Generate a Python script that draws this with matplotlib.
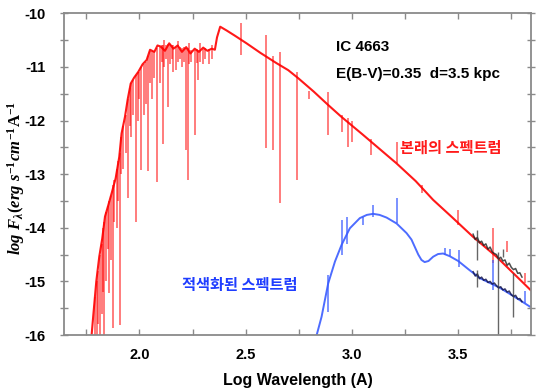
import matplotlib.pyplot as plt
import numpy as np

# intrinsic (dereddened) spectrum, continuum knots
red_x = [1.775, 1.783, 1.797, 1.811, 1.825, 1.838, 1.852, 1.869, 1.888, 1.905, 1.916,
         1.932, 1.945, 1.959, 1.975, 1.995, 2.015, 2.034, 2.05, 2.07, 2.085, 2.10, 2.12,
         2.14, 2.16, 2.18, 2.20, 2.22, 2.24, 2.26, 2.28, 2.30, 2.32, 2.34, 2.355, 2.365,
         2.38, 2.41, 2.45, 2.504, 2.57, 2.645, 2.70, 2.747, 2.82, 2.888, 2.95, 3.05,
         3.21, 3.30, 3.382, 3.47, 3.57, 3.68, 3.76, 3.84]
red_y = [-16.0, -15.63, -15.0, -14.54, -14.2, -13.79, -13.6, -13.36, -13.08, -12.68, -12.24,
         -11.93, -11.6, -11.31, -11.2, -11.09, -10.95, -10.87, -10.68, -10.72, -10.6, -10.62, -10.7,
         -10.56, -10.66, -10.6, -10.72, -10.63, -10.75, -10.66, -10.72, -10.64, -10.7, -10.66, -10.68, -10.45,
         -10.25, -10.32, -10.42, -10.56, -10.74, -10.93, -11.06, -11.21, -11.46, -11.71, -11.93, -12.26,
         -12.80, -13.13, -13.48, -13.8, -14.17, -14.54, -14.85, -15.16]

# absorption / emission features of the intrinsic spectrum: position, top, bottom
rl_x = [1.790, 1.800, 1.805, 1.814, 1.822, 1.830, 1.835, 1.845, 1.850, 1.858, 1.865, 1.874,
        1.880, 1.893, 1.900, 1.908, 1.915, 1.925, 1.935, 1.947, 1.955, 1.962, 1.970, 1.984,
        1.995, 2.0, 2.007, 2.02, 2.03, 2.042, 2.05, 2.06, 2.07, 2.081, 2.095, 2.105, 2.109,
        2.115, 2.125, 2.136, 2.145, 2.155, 2.16, 2.17, 2.18, 2.19, 2.20, 2.21, 2.219, 2.227,
        2.235, 2.245, 2.261, 2.27, 2.277, 2.285, 2.30, 2.31, 2.325, 2.34, 2.478, 2.597,
        2.629, 2.661, 2.742, 2.799, 2.885, 2.951, 2.982, 3.0, 3.089, 3.21, 3.33, 3.50,
        3.664, 3.73, 3.813]
rl_top = [-15.3, -15.0, -14.8, -14.5, -14.3, -14.0, -13.9, -13.7, -13.6, -13.5, -13.4, -13.2,
          -13.1, -12.9, -12.75, -12.6, -12.3, -12.1, -11.9, -11.6, -11.4, -11.3, -11.25, -11.15,
          -11.1, -11.1, -11.0, -10.95, -10.9, -10.8, -10.7, -10.7, -10.7, -10.65, -10.62, -10.6, -10.6,
          -10.5, -10.6, -10.58, -10.58, -10.6, -10.6, -10.62, -10.52, -10.62, -10.65, -10.62, -10.65, -10.65,
          -10.55, -10.68, -10.68, -10.66, -10.68, -10.56, -10.67, -10.65, -10.67, -10.6, -10.19, -10.4,
          -10.8, -10.72, -11.1, -11.45, -11.46, -11.9, -11.95, -12.0, -12.35, -12.40, -13.2, -13.67,
          -14.0, -14.25, -14.85]
rl_bot = [-16.0, -16.0, -15.8, -16.0, -15.6, -15.2, -16.0, -15.0, -14.4, -15.22, -14.6, -15.87,
          -13.9, -14.0, -13.5, -15.82, -13.0, -12.9, -12.6, -13.45, -12.1, -12.3, -11.9, -13.89,
          -12.0, -11.6, -12.92, -11.9, -11.7, -12.95, -11.3, -11.6, -11.2, -13.14, -11.3, -10.9, -12.43,
          -11.0, -10.85, -11.74, -10.95, -10.85, -11.1, -11.05, -10.9, -10.85, -11.0, -10.9, -12.55, -13.11,
          -10.95, -10.9, -12.27, -10.92, -11.24, -10.9, -10.95, -10.85, -10.95, -10.85, -10.78, -12.52,
          -12.55, -13.54, -13.11, -11.59, -12.27, -12.22, -12.49, -12.4, -12.64, -12.80, -13.35, -13.95,
          -14.66, -14.45, -15.03]

# reddened spectrum
blue_x = [2.834, 2.857, 2.888, 2.920, 2.951, 2.990, 3.037, 3.070, 3.100, 3.130, 3.163, 3.210,
          3.257, 3.280, 3.296, 3.312, 3.327, 3.342, 3.36, 3.382, 3.405, 3.429, 3.46, 3.50,
          3.55, 3.602, 3.696, 3.77, 3.837]
blue_y = [-16.0, -15.66, -15.04, -14.63, -14.32, -14.01, -13.82, -13.76, -13.74, -13.76, -13.81, -13.92,
          -14.10, -14.22, -14.36, -14.50, -14.60, -14.64, -14.62, -14.54, -14.49, -14.48, -14.53, -14.62,
          -14.78, -14.94, -15.12, -15.30, -15.47]
bl_x = [2.887, 2.951, 2.975, 3.05, 3.10, 3.212, 3.44, 3.46, 3.505, 3.664, 3.813]
bl_top = [-14.88, -13.86, -13.80, -13.8, -13.58, -13.45, -14.38, -14.40, -14.42, -14.6, -15.18]
bl_bot = [-15.57, -14.51, -14.30, -13.95, -13.80, -13.92, -14.50, -14.52, -14.73, -15.16, -15.40]

# observed data (black) on top of both curves
obs_x = [3.57, 3.58, 3.59, 3.60, 3.61, 3.62, 3.63, 3.64, 3.65, 3.66, 3.67, 3.68, 3.69,
         3.70, 3.71, 3.72, 3.73, 3.74, 3.75, 3.76, 3.77, 3.78, 3.79, 3.80]
obs_red = [-14.12, -14.22, -14.18, -14.28, -14.25, -14.33, -14.30, -14.40, -14.36, -14.45, -14.48,
           -14.50, -14.58, -14.55, -14.62, -14.60, -14.70, -14.66, -14.74, -14.78, -14.76, -14.85, -14.84, -14.92]
obs_blue = [-14.82, -14.90, -14.86, -14.95, -14.92, -14.98, -14.96, -15.02, -15.0, -15.05, -15.03,
            -15.08, -15.12, -15.10, -15.16, -15.14, -15.20, -15.18, -15.25, -15.28, -15.26, -15.33, -15.32, -15.38]
err_x = [3.59, 3.59, 3.685, 3.71, 3.76]
err_top = [-14.05, -14.78, -14.45, -14.40, -14.85]
err_bot = [-14.60, -15.10, -16.0, -14.55, -15.67]

plt.rcParams['mathtext.fontset'] = 'custom'
plt.rcParams['mathtext.rm'] = 'Liberation Serif:bold'
plt.rcParams['mathtext.it'] = 'Liberation Serif:italic:bold'
plt.rcParams['mathtext.bf'] = 'Liberation Serif:bold'

fig = plt.figure(figsize=(5.39, 3.91), dpi=100)
ax = fig.add_axes([0.1187, 0.1432, 0.8663, 0.8228])

ax.plot(red_x, red_y, color='#ff0000', lw=1.5, alpha=0.9)
ax.vlines(rl_x, rl_bot, rl_top, color='#ff0000', lw=1.2, alpha=0.6)
ax.plot(blue_x, blue_y, color='#3a5cff', lw=1.4, alpha=0.9)
ax.vlines(bl_x, bl_bot, bl_top, color='#3a5cff', lw=1.1, alpha=0.85)
ax.plot(obs_x, obs_red, color='#202020', lw=1.1, alpha=0.8)
ax.plot(obs_x, obs_blue, color='#101040', lw=1.1, alpha=0.8)
ax.vlines(err_x, err_bot, err_top, color='#404040', lw=1.0, alpha=0.8)

ax.set_xlim(1.645, 3.842)
ax.set_ylim(-16, -10)
ax.set_xticks([2.0, 2.5, 3.0, 3.5])
ax.set_xticks(np.arange(1.75, 3.84, 0.25), minor=True)
ax.set_yticks(np.arange(-16, -9.9, 1))
ax.set_yticks(np.arange(-15.5, -10, 1), minor=True)
ax.set_yticklabels(['-16', '-15', '-14', '-13', '-12', '-11', '-10'])

for s in ax.spines.values():
    s.set_color('#8a8a8a')
    s.set_linewidth(1.3)
ax.tick_params(which='both', direction='in', top=True, right=True, color='#8a8a8a',
               length=4, width=1)
ax.tick_params(axis='y', which='both', left=True, direction='inout', length=6)
ax.tick_params(axis='y', which='both', right=True)
ax.tick_params(axis='x', which='major', pad=9)
ax.tick_params(axis='y', which='major', pad=10)
for lab in ax.get_xticklabels() + ax.get_yticklabels():
    lab.set_family('Liberation Sans')
    lab.set_fontweight('bold')
    lab.set_fontsize(10.5)

ax.set_xlabel('Log Wavelength (A)', family='Liberation Sans', fontweight='bold',
              fontsize=11.5, labelpad=8)
fig.text(0.029, 0.545, r'$log\ F_{\lambda}(erg\ s^{-1}cm^{-1}\mathrm{A}^{-1}$',
         rotation=90, fontsize=12, ha='center', va='center')

ax.text(2.926, -10.62, 'IC 4663', family='Liberation Sans', fontweight='bold',
        fontsize=11, va='center')
ax.text(2.926, -11.13, 'E(B-V)=0.35  d=3.5 kpc', family='Liberation Sans',
        fontweight='bold', fontsize=11, va='center')
ax.text(3.227, -12.50, '본래의 스펙트럼', family=['Noto Sans CJK KR', 'DejaVu Sans'],
        fontweight='bold', color='#ff1a1a', fontsize=11, va='center')
ax.text(2.198, -15.07, '적색화된 스펙트럼', family=['Noto Sans CJK KR', 'DejaVu Sans'],
        fontweight='bold', color='#1f3dff', fontsize=11, va='center')

fig.savefig('out.png')
